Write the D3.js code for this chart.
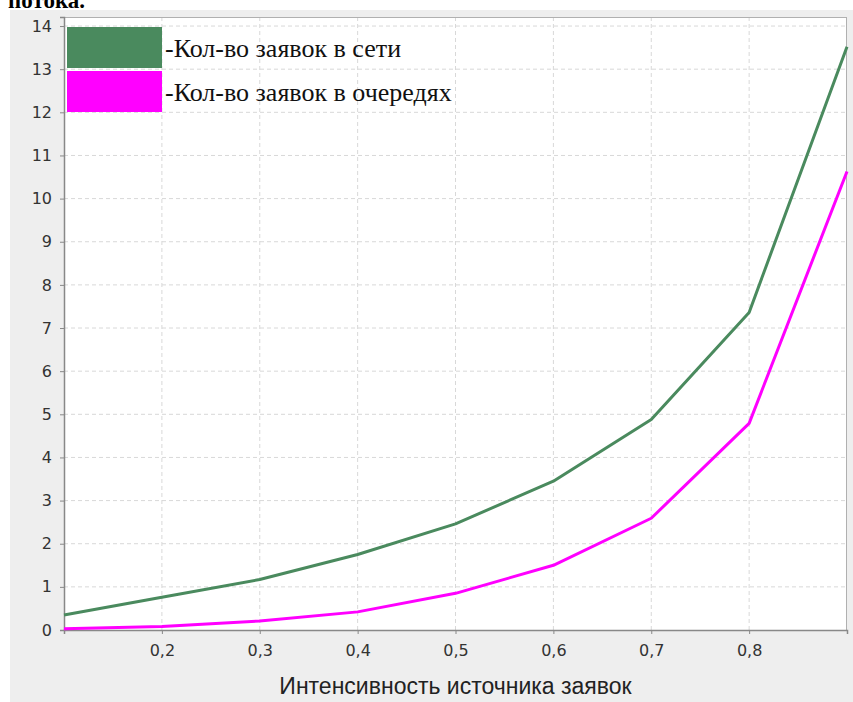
<!DOCTYPE html>
<html>
<head>
<meta charset="utf-8">
<script src="https://cdn.jsdelivr.net/npm/d3@7"></script>
<style>
html, body { margin: 0; padding: 0; background: #ffffff; }
svg { display: block; }
</style>
</head>
<body>
<script>
const xValues = [0.1, 0.2, 0.3, 0.4, 0.5, 0.6, 0.7, 0.8, 0.9];
const networkRequests = [0.35, 0.76, 1.17, 1.75, 2.46, 3.45, 4.88, 7.36, 13.52];
const queueRequests = [0.03, 0.08, 0.21, 0.42, 0.85, 1.5, 2.59, 4.79, 10.63];
const xTicks = [0.2, 0.3, 0.4, 0.5, 0.6, 0.7, 0.8];
const yTicks = [0, 1, 2, 3, 4, 5, 6, 7, 8, 9, 10, 11, 12, 13, 14];
const seriesNames = ["-Кол-во заявок в сети", "-Кол-во заявок в очередях"];
const seriesColors = ["#4a8a5e", "#ff00ff"];
const xTitle = "Интенсивность источника заявок";
const cutTitle = "потока.";

const W = 853, H = 702;
const svg = d3.select("body").append("svg").attr("width", W).attr("height", H);

// white page + cut title
svg.append("rect").attr("width", W).attr("height", H).attr("fill", "#ffffff");
svg.append("text").attr("x", 8).attr("y", 8)
  .attr("font-family", "'Liberation Serif', 'Times New Roman', serif")
  .attr("font-weight", "bold").attr("font-size", 23).attr("fill", "#000")
  .text(cutTitle);

// grey panel
svg.append("rect").attr("x", 10).attr("y", 10).attr("width", W - 10).attr("height", H - 10)
  .attr("fill", "#eeeeee");

const m = { left: 64, right: 847, top: 17, bottom: 630 };
const x = d3.scaleLinear().domain([0.1, 0.9]).range([m.left, m.right]);
const y = d3.scaleLinear().domain([0, (m.bottom - m.top) / 43.14]).range([m.bottom, m.top]);

// plot background
svg.append("rect").attr("x", m.left).attr("y", m.top)
  .attr("width", m.right - m.left).attr("height", m.bottom - m.top)
  .attr("fill", "#ffffff");

// grid
const grid = svg.append("g");
grid.selectAll(".gy").data(yTicks.filter(d => d > 0)).join("line")
  .attr("x1", m.left).attr("x2", m.right)
  .attr("y1", d => y(d)).attr("y2", d => y(d))
  .attr("stroke", "#d8d8d8").attr("stroke-width", 1).attr("stroke-dasharray", "4,3");
grid.selectAll(".gx").data(xTicks).join("line")
  .attr("y1", m.top).attr("y2", m.bottom)
  .attr("x1", d => x(d)).attr("x2", d => x(d))
  .attr("stroke", "#d8d8d8").attr("stroke-width", 1).attr("stroke-dasharray", "4,3");

// plot border
svg.append("rect").attr("x", m.left + 0.5).attr("y", m.top + 0.5)
  .attr("width", m.right - m.left - 1).attr("height", m.bottom - m.top)
  .attr("fill", "none").attr("stroke", "#b0b0b0").attr("stroke-width", 1);

// axes
const axisFont = "'DejaVu Sans', Tahoma, sans-serif";
const fmt = d3.format(".1f");
const gx = svg.append("g").attr("transform", `translate(0,${m.bottom})`)
  .call(d3.axisBottom(x).tickValues(xTicks).tickSize(4).tickPadding(11)
    .tickFormat(d => fmt(d).replace(".", ",")));
const gy = svg.append("g").attr("transform", `translate(${m.left},0)`)
  .call(d3.axisLeft(y).tickValues(yTicks).tickSize(4).tickPadding(8).tickFormat(d3.format("d")));
[gx, gy].forEach(g => {
  g.select(".domain").attr("stroke", "#888888").attr("stroke-width", 1.5);
  g.selectAll(".tick line").attr("stroke", "#888888");
  g.selectAll("text").attr("font-family", axisFont).attr("font-size", 16).attr("fill", "#333");
});

// lines
const line = d3.line().x((d, i) => x(xValues[i])).y(d => y(d));
[networkRequests, queueRequests].forEach((s, k) => {
  svg.append("path").datum(s).attr("d", line)
    .attr("fill", "none").attr("stroke", seriesColors[k]).attr("stroke-width", 3)
    .attr("stroke-linejoin", "round");
});

// x title
svg.append("text").attr("x", (m.left + m.right) / 2).attr("y", 694)
  .attr("text-anchor", "middle").attr("font-family", "'Liberation Sans', Arial, sans-serif")
  .attr("font-size", 23).attr("fill", "#222").text(xTitle);

// legend
const lg = svg.append("g");
seriesNames.forEach((n, k) => {
  lg.append("rect").attr("x", 67).attr("y", 27 + k * 44).attr("width", 95).attr("height", 41)
    .attr("fill", seriesColors[k]);
  lg.append("text").attr("x", 165).attr("y", 57 + k * 44)
    .attr("font-family", "'Liberation Serif', 'Times New Roman', serif")
    .attr("font-size", 26).attr("fill", "#111").text(n);
});
</script>
</body>
</html>
